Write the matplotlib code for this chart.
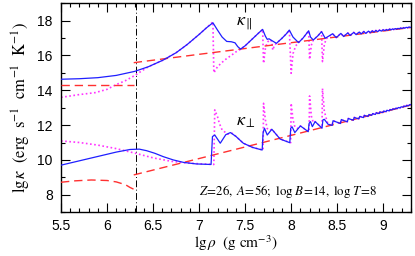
import matplotlib
matplotlib.use("Agg")
import matplotlib.pyplot as plt
from matplotlib.ticker import MultipleLocator

plt.rcParams.update({
    "font.family": "sans-serif",
    "font.sans-serif": ["Liberation Sans", "DejaVu Sans"],
    "mathtext.fontset": "stix",
})

# ---- data ---------------------------------------------------------------
RHO_CUT = 6.31  # dash-dot marker

# upper group: kappa parallel
par_blue_x = [5.5, 5.7, 5.9, 6.1, 6.3, 6.45, 6.61, 6.75, 6.87, 7.0, 7.08, 7.15,
              7.2, 7.25, 7.3, 7.35, 7.39, 7.42, 7.45, 7.5, 7.55, 7.6, 7.65, 7.69,
              7.72, 7.74, 7.76, 7.78, 7.84, 7.9, 7.95, 7.98, 8.02, 8.08, 8.13, 8.19,
              8.21, 8.24, 8.29, 8.33, 8.37, 8.45, 8.49, 8.54, 8.57, 8.615, 8.64, 8.68,
              8.705, 8.74, 8.76, 8.79, 8.81, 8.84, 8.86, 8.88, 8.9, 8.92, 8.94, 8.96,
              8.98, 9.0, 9.02, 9.035, 9.05, 9.07, 9.085, 9.1, 9.115, 9.13, 9.145, 9.16,
              9.175, 9.19, 9.205, 9.22, 9.235, 9.25, 9.265, 9.28, 9.3]
par_blue_y = [14.63, 14.66, 14.72, 14.85, 15.08, 15.35, 15.73, 16.15, 16.62, 17.2, 17.58, 17.87,
              17.45, 17.05, 16.8, 16.78, 16.72, 16.5, 16.36, 16.55, 16.8, 17.05, 17.3, 17.49,
              17.1, 16.92, 16.95, 16.88, 16.69, 16.98, 17.25, 17.45, 17.05, 16.73, 17.0, 17.41,
              17.05, 16.88, 17.12, 17.36, 16.98, 17.24, 17.02, 17.26, 17.08, 17.29, 17.14, 17.32,
              17.19, 17.34, 17.23, 17.37, 17.26, 17.39, 17.3, 17.41, 17.33, 17.43, 17.36, 17.45,
              17.39, 17.47, 17.42, 17.48, 17.44, 17.51, 17.46, 17.52, 17.48, 17.54, 17.5, 17.55,
              17.52, 17.57, 17.54, 17.59, 17.56, 17.61, 17.58, 17.63, 17.6]
par_mag_x = [5.5, 5.7, 5.87, 6.0, 6.09, 6.2, 6.31, 6.36, 6.45, 6.61, 6.75, 6.87, 7.0,
             7.08, 7.15, 7.16, 7.2, 7.25, 7.3, 7.35, 7.4, 7.45, 7.5, 7.55, 7.6, 7.65,
             7.69, 7.70, 7.72, 7.74, 7.77, 7.79, 7.80, 7.82, 7.84, 7.9, 7.95, 7.98, 8.0,
             8.02, 8.05, 8.08, 8.13, 8.19, 8.20, 8.22, 8.24, 8.29, 8.33, 8.34, 8.36, 8.38]
par_mag_y = [13.59, 13.75, 13.86, 14.05, 14.3, 14.55, 14.87, 15.05, 15.35, 15.73, 16.15, 16.62, 17.2,
             17.58, 17.92, 15.0, 15.35, 15.6, 15.82, 16.0, 16.2, 16.35, 16.55, 16.8, 17.05, 17.3,
             17.49, 15.54, 16.4, 16.75, 16.9, 16.8, 16.3, 16.6, 16.69, 16.98, 17.25, 17.45, 14.97,
             16.1, 16.55, 16.73, 17.0, 17.41, 15.77, 16.6, 16.88, 17.12, 17.36, 15.64, 16.6, 16.95]
par_red_lo_x = [5.5, 6.29]
par_red_lo_y = [14.3, 14.3]
par_red_hi_x = [6.29, 7.0, 7.45, 7.84, 8.5, 9.3]
par_red_hi_y = [15.58, 16.06, 16.36, 16.62, 17.06, 17.6]

# lower group: kappa perpendicular
perp_blue_x = [5.5, 5.7, 5.9, 6.1, 6.25, 6.35, 6.43, 6.52, 6.61, 6.72, 6.83, 6.97, 7.13,
               7.145, 7.17, 7.23, 7.29, 7.34, 7.4, 7.48, 7.58, 7.685, 7.695, 7.71, 7.74,
               7.79, 7.84, 7.88, 7.92, 7.985, 7.995, 8.01, 8.04, 8.1, 8.14, 8.185, 8.195,
               8.21, 8.23, 8.26, 8.3, 8.335, 8.345, 8.36, 8.4, 8.445, 8.455, 8.47, 8.535,
               8.545, 8.56, 8.61, 8.62, 8.635, 8.675, 8.685, 8.7, 8.735, 8.745, 8.76, 8.785,
               8.795, 8.81, 8.835, 8.845, 8.86, 8.875, 8.885, 8.9, 8.915, 8.925, 8.94, 8.955,
               8.965, 8.98, 8.995, 9.005, 9.02, 9.03, 9.04, 9.06, 9.065, 9.075, 9.09, 9.095,
               9.105, 9.12, 9.125, 9.135, 9.15, 9.155, 9.165, 9.18, 9.185, 9.195, 9.21, 9.215,
               9.225, 9.24, 9.245, 9.255, 9.27, 9.275, 9.285, 9.3]
perp_blue_y = [9.7, 9.95, 10.2, 10.45, 10.6, 10.62, 10.53, 10.38, 10.19, 10.0, 9.86, 9.77, 9.74,
               11.34, 11.43, 10.96, 11.45, 11.57, 11.35, 10.96, 10.72, 10.57, 11.55, 11.82, 11.43,
               11.76, 11.45, 11.2, 11.12, 10.99, 11.82, 11.9, 11.57, 11.95, 11.8, 11.62, 12.1,
               12.2, 11.91, 12.2, 12.0, 11.82, 12.3, 12.33, 12.05, 11.98, 12.25, 12.22, 12.09,
               12.32, 12.28, 12.19, 12.38, 12.35, 12.28, 12.44, 12.41, 12.36, 12.5, 12.47, 12.43,
               12.56, 12.53, 12.5, 12.61, 12.58, 12.56, 12.66, 12.63, 12.61, 12.71, 12.68, 12.66,
               12.76, 12.73, 12.72, 12.81, 12.78, 12.77, 12.85, 12.82, 12.82, 12.89, 12.87, 12.87,
               12.93, 12.91, 12.91, 12.97, 12.95, 12.95, 13.01, 12.99, 12.99, 13.05, 13.03, 13.03,
               13.09, 13.07, 13.07, 13.13, 13.11, 13.11, 13.17, 13.17]
perp_mag_x = [5.5, 5.7, 5.9, 6.1, 6.31, 6.5, 6.7, 6.83, 7.0, 7.16, 7.17, 7.2, 7.22, 7.25,
              7.31, 7.36, 7.4, 7.48, 7.58, 7.695, 7.70, 7.72, 7.74, 7.77, 7.79, 7.84, 7.88,
              7.92, 7.995, 8.0, 8.02, 8.04, 8.07, 8.1, 8.14, 8.195, 8.2, 8.22, 8.24, 8.26,
              8.3, 8.335, 8.34, 8.36, 8.38, 8.4]
perp_mag_y = [11.09, 11.0, 10.85, 10.65, 10.38, 10.12, 9.92, 9.84, 9.78, 9.74, 12.87, 12.48, 12.1, 11.72,
              11.48, 11.53, 11.35, 10.96, 10.72, 10.57, 13.25, 12.3, 11.8, 11.7, 11.76, 11.45, 11.2,
              11.12, 10.99, 13.25, 12.3, 11.9, 11.8, 11.95, 11.8, 11.62, 13.67, 12.5, 12.15, 12.2,
              12.0, 11.82, 14.1, 12.8, 12.4, 12.05]
perp_red_lo_x = [5.5, 5.65, 5.83, 6.0, 6.1, 6.2, 6.25, 6.29]
perp_red_lo_y = [8.72, 8.8, 8.85, 8.82, 8.74, 8.58, 8.42, 8.32]
perp_red_hi_x = [6.29, 7.0, 7.88, 9.3]
perp_red_hi_y = [9.14, 10.08, 11.25, 13.15]

BLUE, RED, MAG = "#1f1fff", "#ff3030", "#ff33ff"

fig = plt.figure(figsize=(4.15, 2.56), dpi=100)
ax = fig.add_axes([0.147, 0.171, 0.843, 0.817])

# magenta tails follow the blue curves past the last resolved spike
tail_par = [(x, y) for x, y in zip(par_blue_x, par_blue_y) if x > 8.4]
tail_perp = [(x, y) for x, y in zip(perp_blue_x, perp_blue_y) if x > 8.4]
ax.plot(par_mag_x + [p[0] for p in tail_par], par_mag_y + [p[1] for p in tail_par],
        ls=(0, (1, 1.5)), color=MAG, lw=1.2, zorder=2)
ax.plot(perp_mag_x + [p[0] for p in tail_perp], perp_mag_y + [p[1] for p in tail_perp],
        ls=(0, (1, 1.5)), color=MAG, lw=1.2, zorder=2)

for xs, ys in [(par_red_lo_x, par_red_lo_y), (par_red_hi_x, par_red_hi_y),
               (perp_red_lo_x, perp_red_lo_y), (perp_red_hi_x, perp_red_hi_y)]:
    ax.plot(xs, ys, ls=(0, (6, 3.5)), color=RED, lw=1.0, zorder=3)

ax.plot(par_blue_x, par_blue_y, color=BLUE, lw=0.9, zorder=4)
ax.plot(perp_blue_x, perp_blue_y, color=BLUE, lw=0.9, zorder=4)

ax.axvline(RHO_CUT, color="black", lw=0.7, ls=(0, (7, 2.5, 1, 2.5)), zorder=1)

ax.text(7.40, 17.8, r"$\kappa_{\parallel}$", fontsize=13, va="center", ha="left")
ax.text(7.40, 12.2, r"$\kappa_{\perp}$", fontsize=13, va="center", ha="left")
ax.text(7.97, 8.18, r"$Z\!=\!26,\ A\!=\!56;\ \log\,B\!=\!14,\ \log\,T\!=\!8$",
        fontsize=9.3, va="center", ha="center")

ax.set_xlim(5.5, 9.3)
ax.set_ylim(7, 19)
ax.xaxis.set_major_locator(MultipleLocator(0.5))
ax.xaxis.set_minor_locator(MultipleLocator(0.1))
ax.yaxis.set_major_locator(MultipleLocator(2))
ax.yaxis.set_minor_locator(MultipleLocator(1))
ax.set_xticks([5.5, 6, 6.5, 7, 7.5, 8, 8.5, 9])
ax.set_xticklabels(["5.5", "6", "6.5", "7", "7.5", "8", "8.5", "9"])
ax.set_yticks([8, 10, 12, 14, 16, 18])
ax.tick_params(which="both", direction="in", top=True, right=True, labelsize=10, width=0.8)
ax.tick_params(which="major", length=6.5, pad=6)
ax.tick_params(axis="x", which="major", pad=5)
ax.tick_params(which="minor", length=3.2)
for s in ax.spines.values():
    s.set_linewidth(1.0)

ax.set_xlabel(r"$\mathrm{lg}\,\rho\ \ (\mathrm{g\ cm^{-3}})$", fontsize=11, labelpad=0.5)
ax.set_ylabel(r"$\mathrm{lg}\,\kappa\ \ (\mathrm{erg\ \ s^{-1}\ \ cm^{-1}\ \ K^{-1}})$",
              fontsize=12, labelpad=3)

fig.savefig("out.png", dpi=100)
